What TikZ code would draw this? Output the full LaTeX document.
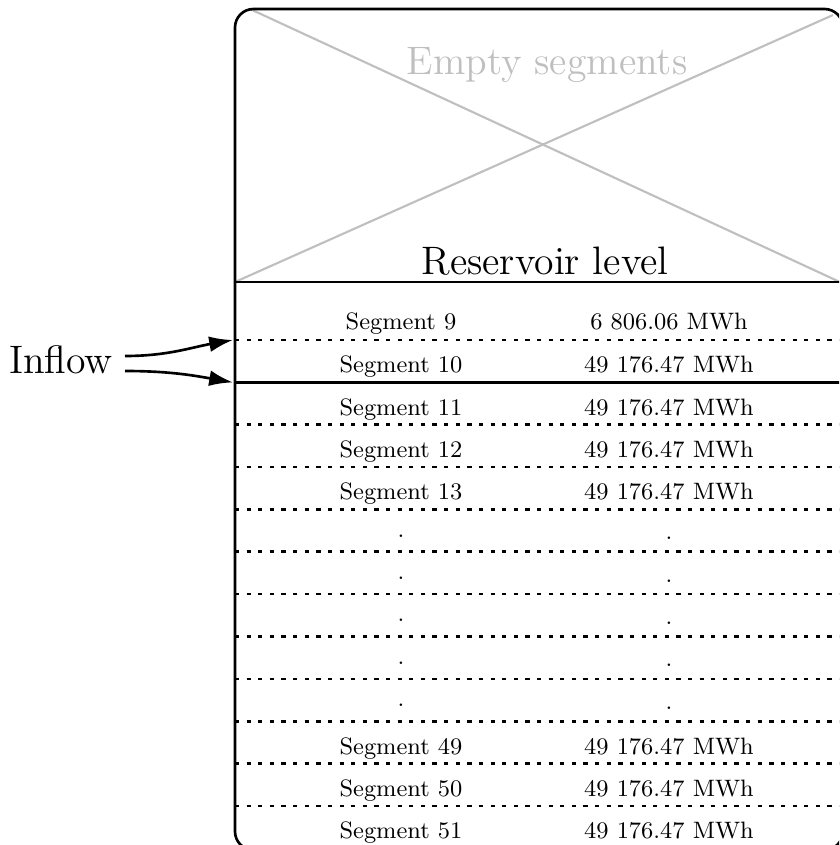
\documentclass[tikz,border=0pt]{standalone}
\usetikzlibrary{arrows.meta}
\begin{document}
\begin{tikzpicture}[x=0.3788pt,y=-0.3788pt,
  frame/.style={line width=1pt, rounded corners=7pt},
  rule/.style={line width=1pt},
  sep/.style={line width=1pt, dash pattern=on 1.6pt off 2.8pt},
  crossline/.style={line width=0.8pt, draw=lightgray},
  seg/.style={font=\small, anchor=base, inner sep=0pt},
  head/.style={font=\Large, anchor=base, inner sep=0pt, scale=1.045, transform shape},
  feed/.style={line width=1pt, -{Latex[length=9pt,width=6pt]}}]
\useasboundingbox (0,0) rectangle (839,845);
\clip (0,0) rectangle (839,845);

% crossed-out area of empty segments
\draw[crossline] (250,9) -- (842,283);
\draw[crossline] (235,282) -- (833,15);
\node[head, text=lightgray] (empty) at (547,74) {Empty segments};

% reservoir outline and level line
\draw[frame] (235,850) -- (235,9) -- (843,9) -- (843,850) -- cycle;
\draw[rule] (235,282) -- (843,282);
\node[head] (level) at (545,274) {Reservoir level};

% segment separators (the one under segment 10 is solid)
\foreach \k in {0,2,3,4,5,6,7,8,9,10,11}
  \draw[sep] (235,{340+42.36*\k}) -- (843,{340+42.36*\k});
\draw[rule] (235,382.4) -- (843,382.4);

% segment labels and volumes
\node[seg] (s9) at (401,329) {Segment 9};
\node[seg] (v9) at (669,329) {6 806.06 MWh};
\foreach \k/\n in {1/10,2/11,3/12,4/13,10/49,11/50,12/51}{
  \node[seg] (s\n) at (401,{340+42.36*\k-9.5}) {Segment \n};
  \node[seg] (v\n) at (669,{340+42.36*\k-9.5}) {49 176.47 MWh};
}
\foreach \k in {5,6,7,8,9}{
  \node[seg] (dl\k) at (401,{340+42.36*\k-14.6}) {.};
  \node[seg] (dr\k) at (669,{340+42.36*\k-12}) {.};
}

% inflow arrows
\node[head] (inflow) at (61,373) {Inflow};
\coordinate (src9) at (125,356);
\coordinate (src10) at (125,371);
\coordinate (in9) at (233,340);
\coordinate (in10) at (233,382.4);
\draw[feed] (src9) to[out=0,in=190] (in9);
\draw[feed] (src10) to[out=0,in=170] (in10);
\end{tikzpicture}
\end{document}
